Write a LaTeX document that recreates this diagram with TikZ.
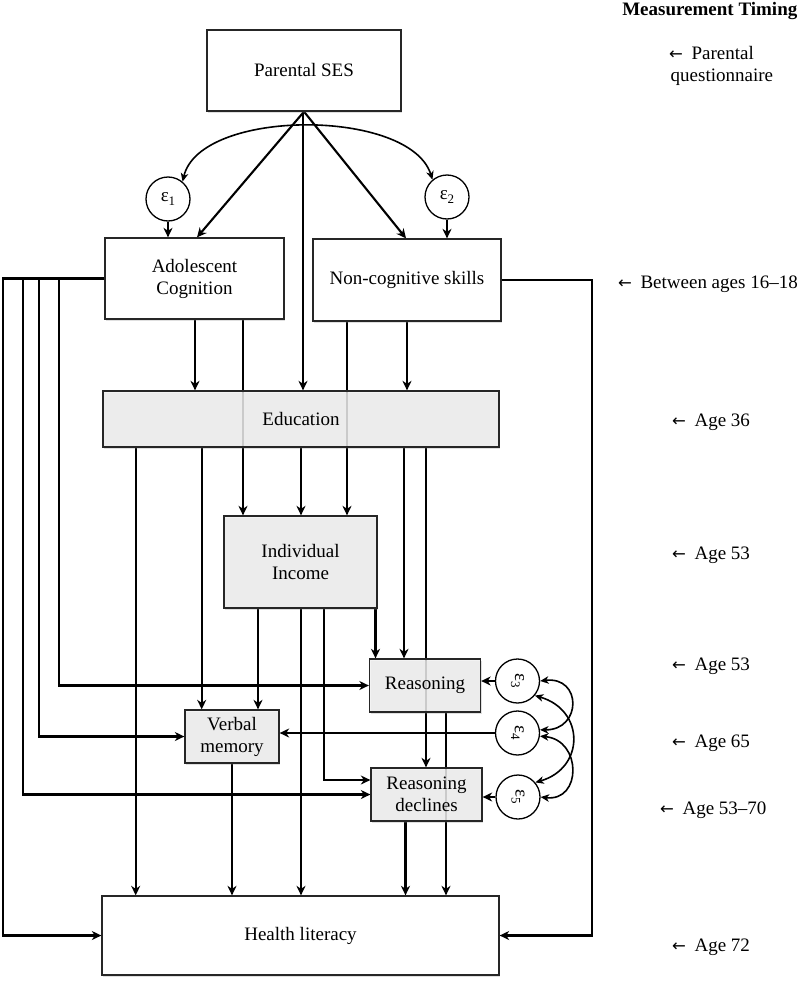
\documentclass[tikz,border=0pt]{standalone}
\usepackage{fontspec}
\setmainfont{Liberation Serif}
\newfontfamily\arrfont{DejaVu Sans}
\usepackage{graphicx}
\usetikzlibrary{arrows.meta,shadows,backgrounds}
\newcommand{\larr}{{\arrfont\fontsize{16.5}{16.5}\selectfont ←}\hspace{8.5pt}}

\begin{document}
\begin{tikzpicture}[x=1pt,y=-1pt,
  every node/.style={font=\fontsize{19}{22}\selectfont, align=center},
  box/.style={draw=black!85, line width=1.3pt, inner sep=0pt, fill=white,
    drop shadow={shadow xshift=1.2pt, shadow yshift=-1.5pt, opacity=0.25}},
  gbox/.style={box, fill=black!6, fill opacity=0.82, text opacity=1},
  err/.style={circle, draw=black, line width=1.3pt, minimum size=44pt, inner sep=0pt, fill=white},
  arr/.style={line width=2.1pt, -{Stealth[length=9.5pt,width=9pt,inset=3pt]}},
  dbl/.style={line width=1.6pt, {Stealth[length=8.5pt,width=7.5pt,inset=2.5pt]}-{Stealth[length=8.5pt,width=7.5pt,inset=2.5pt]}},
  lab/.style={anchor=base west, inner sep=0pt}
]
\useasboundingbox (0,0) rectangle (800,985);

% ---------- boxes ----------
\node[box, minimum width=194pt, minimum height=81pt] (ses) at (304,70.5) {Parental SES};
\node[box, minimum width=179pt, minimum height=81pt] (adol) at (194.5,278.5) {Adolescent\\Cognition};
\node[box, minimum width=188pt, minimum height=82pt] (nonc) at (407,280) {Non-cognitive skills};
\node[gbox, minimum width=396pt, minimum height=56pt] (edu) at (301,419) {Education};
\node[gbox, minimum width=153pt, minimum height=92pt] (inc) at (300.5,562) {Individual\\Income};
\node[gbox, minimum width=111pt, minimum height=53pt] (reas) at (425,685.5) {Reasoning};
\node[gbox, minimum width=94pt, minimum height=53pt] (verb) at (232,736.5) {Verbal\\memory};
\node[gbox, minimum width=111pt, minimum height=53pt] (rdec) at (426.5,794.5) {Reasoning\\declines};
\node[box, minimum width=397pt, minimum height=79pt] (hl) at (300.5,935.5) {Health literacy};

% ---------- error terms ----------
\node[err] (e1) at (168,199) {ε\raisebox{-0.45ex}{\fontsize{13}{13}\selectfont 1}};
\node[err] (e2) at (447,197) {ε\raisebox{-0.45ex}{\fontsize{13}{13}\selectfont 2}};
\node[err] (e3) at (517.5,681) {\rotatebox{-90}{ε\raisebox{-0.45ex}{\fontsize{13}{13}\selectfont 3}}};
\node[err] (e4) at (517.5,733) {\rotatebox{-90}{ε\raisebox{-0.45ex}{\fontsize{13}{13}\selectfont 4}}};
\node[err] (e5) at (518,797) {\rotatebox{-90}{ε\raisebox{-0.45ex}{\fontsize{13}{13}\selectfont 5}}};

% ---------- timing labels ----------
\node[anchor=base east, inner sep=0pt, font=\fontsize{19}{22}\selectfont\bfseries] (mt) at (797.5,15.5) {Measurement Timing};
\node[lab] (t1) at (669,59.5) {\larr Parental};
\node[lab] (t1b) at (670.5,81) {questionnaire};
\node[lab] (t2) at (618,288) {\larr Between ages 16–18};
\node[lab] (t3) at (672,426.5) {\larr Age 36};
\node[lab] (t4) at (672,559) {\larr Age 53};
\node[lab] (t5) at (672,670) {\larr Age 53};
\node[lab] (t6) at (672,747) {\larr Age 65};
\node[lab] (t7) at (660,814.5) {\larr Age 53–70};
\node[lab] (t8) at (672,951) {\larr Age 72};

% ---------- connectors ----------
\begin{pgfonlayer}{background}
% Parental SES
\draw[arr] (ses.south) -- (197,0 |- adol.north);
\draw[arr] (ses.south) -- (406,0 |- nonc.north);
\draw[arr] (303,0 |- ses.south) -- (303,0 |- edu.north);
\draw[dbl] (e1.50) .. controls (200,108) and (410,108) .. (e2.130);
\draw[arr] (e1.south) -- (e1.south |- adol.north);
\draw[arr] (e2.south) -- (e2.south |- nonc.north);

% Adolescent cognition, left side
\draw[arr] (adol.west) -- (3,0 |- adol.west) -- (3,0 |- hl.west) -- (hl.west);
\draw[arr] (22.7,0 |- adol.west) |- (rdec.west);
\draw[arr] (39.3,0 |- adol.west) |- (verb.west);
\draw[arr] (59,0 |- adol.west) |- (reas.west);
% Adolescent cognition, bottom
\draw[arr] (195,0 |- adol.south) -- (195,0 |- edu.north);
\draw[arr] (243,0 |- adol.south) -- (243,0 |- inc.north);

% Non-cognitive skills
\draw[arr] (347,0 |- nonc.south) -- (347,0 |- inc.north);
\draw[arr] (407,0 |- nonc.south) -- (407,0 |- edu.north);
\draw[arr] (nonc.east) -- (592,0 |- nonc.east) |- (hl.east);

% Education
\draw[arr] (135.7,0 |- edu.south) -- (135.7,0 |- hl.north);
\draw[arr] (201.7,0 |- edu.south) -- (201.7,0 |- verb.north);
\draw[arr] (301,0 |- edu.south) -- (301,0 |- inc.north);
\draw[arr] (404,0 |- edu.south) -- (404,0 |- reas.north);
\draw[arr] (426,0 |- edu.south) -- (426,0 |- rdec.north);

% Individual income
\draw[arr] (258,0 |- inc.south) -- (258,0 |- verb.north);
\draw[arr] (301,0 |- inc.south) -- (301,0 |- hl.north);
\draw[arr] (324,0 |- inc.south) |- (rdec.west |- 0,780);
\draw[arr] (375.5,0 |- inc.south) -- (375.5,0 |- reas.north);

% Cognitive outcomes to health literacy
\draw[arr] (verb.south) -- (verb.south |- hl.north);
\draw[arr] (446,0 |- reas.south) -- (446,0 |- hl.north);
\draw[arr] (405.5,0 |- rdec.south) -- (405.5,0 |- hl.north);

% error terms of outcomes
\draw[arr] (e3.west) -- (reas.east |- e3.west);
\draw[arr] (e4.west) -- (verb.east |- e4.west);
\draw[arr] (e5.west) -- (rdec.east |- e5.west);
\draw[dbl] (e3.0) .. controls (582,676) and (582,730) .. (e4.8);
\draw[dbl] (e3.-40) .. controls (585,710) and (585,768) .. (e5.40);
\draw[dbl] (e4.-8) .. controls (582,740) and (582,802) .. (e5.0);
\end{pgfonlayer}
\end{tikzpicture}
\end{document}
